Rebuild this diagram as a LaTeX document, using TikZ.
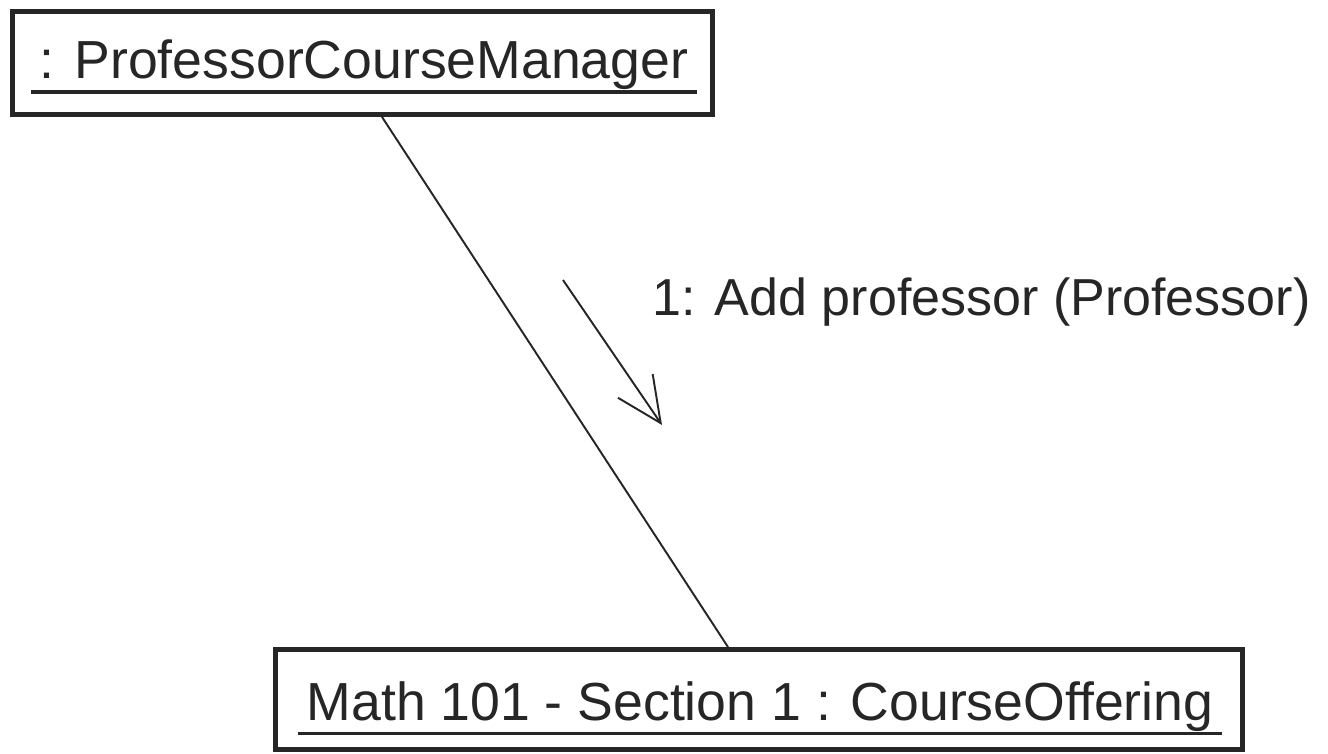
\documentclass[tikz,border=0pt]{standalone}
\usepackage{fontspec}
\setmainfont{Liberation Sans}
\usepackage{tikz}
\usetikzlibrary{arrows.meta, positioning, calc}

\begin{document}
\begin{tikzpicture}[
  objbox/.style={draw=black!85, line width=2.8pt},
  objname/.style={font=\fontsize{30.5}{36}\selectfont, text=black!85, inner xsep=0.16cm, anchor=base},
  uline/.style={draw=black!85, line width=2.2pt},
  link/.style={draw=black!85, line width=1.1pt},
  msg/.style={draw=black!85, line width=1.1pt, -{Straight Barb[length=0.9cm, width=0.84cm, line width=1.1pt]}},
]
\useasboundingbox[fill=white] (0,0) rectangle (26.56,-15.06);

\node[objbox, minimum width=14cm,    minimum height=2.06cm] (pcm) at (7.25,-1.26)  {};
\node[objbox, minimum width=19.34cm, minimum height=2.0cm]  (off) at (15.18,-13.99) {};

\node[objname] (pcmname) at (7.28,-1.56) {: ProfessorCourseManager};
\node[objname] (offname) at (15.2,-14.40) {Math 101 - Section 1 : CourseOffering};
\draw[uline] ([yshift=-0.28cm]pcmname.base west) -- ([yshift=-0.28cm]pcmname.base east);
\draw[uline] ([yshift=-0.27cm]offname.base west) -- ([yshift=-0.27cm]offname.base east);

\draw[link] ([xshift=0.39cm]pcm.south) -- ([xshift=-0.62cm]off.north);

\coordinate (msgfrom) at (11.26,-5.6);
\coordinate (msgto)   at (13.24,-8.5);
\draw[msg] (msgfrom) -- (msgto);
\node[objname, font=\fontsize{29.6}{35}\selectfont, anchor=base west, inner xsep=0pt] (msglabel) at (13.04,-6.3) {1: Add professor (Professor)};
\end{tikzpicture}
\end{document}
